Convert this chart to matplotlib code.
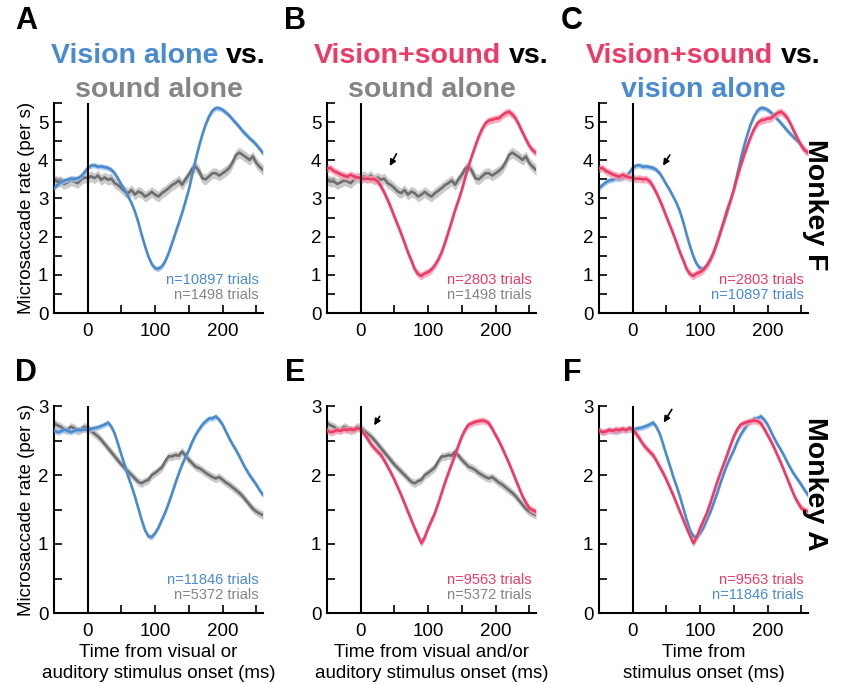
import numpy as np
import matplotlib.pyplot as plt
from matplotlib.ticker import MultipleLocator

plt.rcParams["font.family"] = ["Liberation Sans", "DejaVu Sans"]

# sample times (ms from stimulus onset)
time_ms = np.arange(-50, 261, 5)

# Monkey F : microsaccade rate (per s)
f_vision = [3.27, 3.35, 3.42, 3.47, 3.49, 3.52, 3.51, 3.53, 3.58, 3.68,
            3.80, 3.86, 3.87, 3.83, 3.84, 3.82, 3.80, 3.75, 3.66, 3.52,
            3.36, 3.22, 3.05, 2.88, 2.66, 2.38, 2.05, 1.75, 1.48, 1.28,
            1.17, 1.16, 1.22, 1.36, 1.57, 1.82, 2.09, 2.35, 2.62, 2.92,
            3.23, 3.62, 4.01, 4.36, 4.67, 4.94, 5.15, 5.30, 5.37, 5.36,
            5.32, 5.25, 5.17, 5.07, 4.97, 4.87, 4.76, 4.67, 4.58, 4.50,
            4.41, 4.30, 4.19]
f_sound = [3.49, 3.44, 3.45, 3.38, 3.42, 3.47, 3.45, 3.40, 3.49, 3.55,
           3.53, 3.58, 3.53, 3.60, 3.49, 3.55, 3.49, 3.52, 3.40, 3.35,
           3.27, 3.18, 3.14, 3.22, 3.10, 3.18, 3.14, 3.05, 3.10, 3.17,
           3.10, 3.05, 3.14, 3.20, 3.27, 3.35, 3.40, 3.47, 3.36, 3.50,
           3.62, 3.78, 3.84, 3.72, 3.53, 3.50, 3.58, 3.66, 3.66, 3.60,
           3.66, 3.72, 3.80, 3.95, 4.14, 4.20, 4.14, 4.08, 4.01, 4.10,
           3.93, 3.83, 3.75]
f_both = [3.78, 3.80, 3.72, 3.68, 3.63, 3.60, 3.57, 3.62, 3.58, 3.55,
          3.54, 3.51, 3.52, 3.50, 3.51, 3.45, 3.32, 3.15, 2.96, 2.75,
          2.52, 2.30, 2.08, 1.84, 1.59, 1.38, 1.15, 1.02, 0.97, 1.04,
          1.07, 1.14, 1.25, 1.40, 1.59, 1.84, 2.12, 2.40, 2.70, 2.95,
          3.23, 3.55, 3.85, 4.12, 4.38, 4.62, 4.82, 4.97, 5.04, 5.06,
          5.09, 5.10, 5.18, 5.24, 5.27, 5.20, 5.09, 4.92, 4.73, 4.55,
          4.38, 4.26, 4.20]

# Monkey A : microsaccade rate (per s)
a_vision = [2.65, 2.62, 2.63, 2.66, 2.64, 2.62, 2.64, 2.66, 2.65, 2.66,
            2.65, 2.67, 2.68, 2.69, 2.71, 2.73, 2.76, 2.70, 2.60, 2.45,
            2.29, 2.14, 1.98, 1.84, 1.69, 1.52, 1.35, 1.20, 1.11, 1.10,
            1.16, 1.24, 1.35, 1.46, 1.59, 1.73, 1.88, 2.02, 2.15, 2.26,
            2.36, 2.48, 2.58, 2.66, 2.73, 2.78, 2.82, 2.82, 2.85, 2.80,
            2.73, 2.63, 2.53, 2.44, 2.36, 2.27, 2.17, 2.08, 2.00, 1.93,
            1.86, 1.78, 1.71]
a_sound = [2.75, 2.72, 2.70, 2.66, 2.65, 2.70, 2.68, 2.64, 2.66, 2.70,
           2.68, 2.64, 2.60, 2.56, 2.51, 2.45, 2.39, 2.33, 2.27, 2.21,
           2.15, 2.10, 2.05, 2.00, 1.95, 1.90, 1.88, 1.91, 1.93, 2.00,
           2.03, 2.07, 2.11, 2.20, 2.27, 2.27, 2.29, 2.28, 2.34, 2.28,
           2.22, 2.17, 2.12, 2.10, 2.07, 2.03, 2.00, 1.97, 1.95, 1.97,
           1.93, 1.89, 1.86, 1.82, 1.78, 1.74, 1.69, 1.63, 1.57, 1.51,
           1.47, 1.44, 1.42]
a_both = [2.65, 2.62, 2.63, 2.65, 2.64, 2.66, 2.65, 2.67, 2.65, 2.68,
          2.66, 2.60, 2.53, 2.45, 2.39, 2.34, 2.29, 2.21, 2.12, 2.03,
          1.93, 1.82, 1.71, 1.59, 1.47, 1.35, 1.23, 1.12, 1.01, 1.10,
          1.23, 1.34, 1.45, 1.59, 1.74, 1.89, 2.03, 2.16, 2.29, 2.43,
          2.56, 2.66, 2.73, 2.75, 2.77, 2.78, 2.79, 2.78, 2.75, 2.67,
          2.58, 2.49, 2.39, 2.28, 2.17, 2.05, 1.93, 1.81, 1.69, 1.60,
          1.52, 1.49, 1.47]

# s.e.m. half-width of the shaded bands
f_sem = {"vision": 0.07, "sound": 0.14, "both": 0.10}
a_sem = {"vision": 0.04, "sound": 0.06, "both": 0.05}

f_trials = {"vision": 10897, "sound": 1498, "both": 2803}
a_trials = {"vision": 11846, "sound": 5372, "both": 9563}

BLUE = "#4a8bcf"
PINK = "#ec3b67"
GRAY = "#6e6e6e"
GRAY_TXT = "#858585"
COLORS = {"vision": BLUE, "sound": GRAY, "both": PINK}
BAND_COLORS = {"vision": "#9cc0e6", "sound": "#bdbdbd", "both": "#f59ab0"}
TXT_COLORS = {"vision": BLUE, "sound": GRAY_TXT, "both": PINK}

monkeys = {
    "F": {"vision": f_vision, "sound": f_sound, "both": f_both,
          "sem": f_sem, "n": f_trials, "ymax": 5.5},
    "A": {"vision": a_vision, "sound": a_sound, "both": a_both,
          "sem": a_sem, "n": a_trials, "ymax": 3.0},
}

# (top series, bottom series) for each column
col_pairs = [("vision", "sound"), ("both", "sound"), ("both", "vision")]
titles = [
    [[("Vision alone", BLUE), ("vs.", "black")], [("sound alone", GRAY_TXT)]],
    [[("Vision+sound", PINK), ("vs.", "black")], [("sound alone", GRAY_TXT)]],
    [[("Vision+sound", PINK), ("vs.", "black")], [("vision alone", BLUE)]],
]
xlabels = ["Time from visual or\nauditory stimulus onset (ms)",
           "Time from visual and/or\nauditory stimulus onset (ms)",
           "Time from\nstimulus onset (ms)"]
# arrow (tail, head) in data coords
arrows = {
    ("F", 1): ((53, 4.17), (43, 3.85)),
    ("F", 2): ((55, 4.14), (45, 3.86)),
    ("A", 1): ((28, 2.85), (20, 2.72)),
    ("A", 2): ((58, 2.95), (46, 2.76)),
}

W, H = 841, 684
fig = plt.figure(figsize=(W / 100, H / 100), dpi=100)
renderer = fig.canvas.get_renderer()

col_left = [54, 327, 599]
col_w = 209
rows = {"F": (103, 313), "A": (406, 613)}
letters = {"F": ["A", "B", "C"], "A": ["D", "E", "F"]}
letter_x = [26, 295, 572]
letter_y = {"F": 21, "A": 373}


def title_line(xc, y_base, parts, size=20.5):
    texts, widths = [], []
    for s, c in parts:
        t = fig.text(0, 0, s, fontsize=size, fontweight="bold", color=c,
                     ha="left", va="baseline")
        widths.append(t.get_window_extent(renderer).width)
        texts.append(t)
    gap = 0.28 * size * fig.dpi / 72
    total = sum(widths) + gap * (len(parts) - 1)
    x = xc - total / 2
    for t, w in zip(texts, widths):
        t.set_position((x / W, 1 - y_base / H))
        x += w + gap


for mk, (top, bot) in rows.items():
    d = monkeys[mk]
    for col in range(3):
        ax = fig.add_axes([col_left[col] / W, 1 - bot / H, col_w / W, (bot - top) / H])
        first, second = col_pairs[col]
        for key, z in [(second, 2), (first, 3)]:
            y = np.array(d[key])
            ax.fill_between(time_ms, y - d["sem"][key], y + d["sem"][key],
                            color=BAND_COLORS[key], alpha=0.8, lw=0, zorder=z)
            ax.plot(time_ms, y, color=COLORS[key], lw=1.9, zorder=z)
        ax.axvline(0, color="black", lw=1.5, zorder=5)

        ax.set_xlim(-50, 260)
        ax.set_ylim(0, d["ymax"])
        ax.xaxis.set_major_locator(MultipleLocator(100))
        ax.xaxis.set_minor_locator(MultipleLocator(50))
        ax.yaxis.set_major_locator(MultipleLocator(1))
        ax.yaxis.set_minor_locator(MultipleLocator(0.5))
        ax.tick_params(which="both", direction="in", length=6, width=1.2,
                       labelsize=13.5)
        ax.tick_params(axis="x", pad=7)
        ax.tick_params(axis="y", pad=4)
        for s in ["top", "right"]:
            ax.spines[s].set_visible(False)
        for s in ["left", "bottom"]:
            ax.spines[s].set_linewidth(1.5)

        if col == 0:
            ax.set_ylabel("Microsaccade rate (per s)", fontsize=13.5, labelpad=2)
        if mk == "A":
            ax.set_xlabel(xlabels[col], fontsize=13.5, labelpad=3, linespacing=1.3)

        ax.text(0.98, 0.14, f"n={d['n'][first]} trials", color=TXT_COLORS[first],
                fontsize=10.5, ha="right", va="baseline", transform=ax.transAxes)
        ax.text(0.98, 0.068, f"n={d['n'][second]} trials", color=TXT_COLORS[second],
                fontsize=10.5, ha="right", va="baseline", transform=ax.transAxes)

        if (mk, col) in arrows:
            tail, head = arrows[(mk, col)]
            ax.annotate("", xy=head, xytext=tail, zorder=6,
                        arrowprops=dict(arrowstyle="-|>", color="black",
                                        lw=1.2, mutation_scale=9,
                                        shrinkA=0, shrinkB=0))

        fig.text(letter_x[col] / W, 1 - letter_y[mk] / H, letters[mk][col],
                 fontsize=22, fontweight="bold", ha="center", va="center")

        if mk == "F":
            xc = col_left[col] + col_w / 2
            title_line(xc, 63, titles[col][0])
            title_line(xc, 97, titles[col][1])

fig.text(815 / W, 1 - 205 / H, "Monkey F", fontsize=20.5, fontweight="bold",
         rotation=270, ha="center", va="center")
fig.text(815 / W, 1 - 484 / H, "Monkey A", fontsize=20.5, fontweight="bold",
         rotation=270, ha="center", va="center")

fig.savefig("out.png", dpi=100)
